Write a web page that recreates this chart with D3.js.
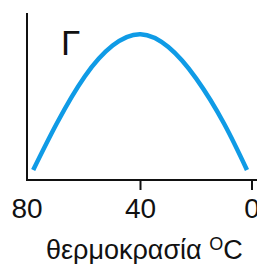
<!DOCTYPE html>
<html>
<head>
<meta charset="utf-8">
<script src="https://cdn.jsdelivr.net/npm/d3@7"></script>
<style>
  body { margin: 0; background: #fff; }
  text { font-family: "Liberation Sans", Arial, sans-serif; fill: #111; }
</style>
</head>
<body>
<script>
var w = 257, h = 264;

// temperature (°C)
var temps = [78.5, 70, 60, 50, 40, 30, 20, 10, 1.8];
// relative activity (0-100)
var activity = [6, 34, 62, 80.5, 87.3, 79.6, 60.7, 33.7, 6];
var tickVals = [40, 0];
var tickLabels = ['80', '40', '0'];
var labelVals = [80, 40, 0];

var x = d3.scaleLinear().domain([80, 0]).range([29, 252]);
var y = d3.scaleLinear().domain([0, 100]).range([180, 13]);

var svg = d3.select('body').append('svg')
    .attr('width', w)
    .attr('height', h);

var data = temps.map(function(t, i) { return { t: t, v: activity[i] }; });

var line = d3.line()
    .x(d => x(d.t))
    .y(d => y(d.v))
    .curve(d3.curveNatural);

svg.append('path')
    .datum(data)
    .attr('d', line)
    .attr('fill', 'none')
    .attr('stroke', '#0f9be6')
    .attr('stroke-width', 4.5);

// axes
svg.append('line')
    .attr('x1', 27).attr('x2', 27)
    .attr('y1', y(100)).attr('y2', y(0) + 1)
    .attr('stroke', '#111').attr('stroke-width', 2);
svg.append('line')
    .attr('x1', 26).attr('x2', w)
    .attr('y1', y(0)).attr('y2', y(0))
    .attr('stroke', '#111').attr('stroke-width', 2);

svg.selectAll('.tick')
    .data(tickVals)
    .enter()
    .append('line')
    .attr('class', 'tick')
    .attr('x1', d => x(d)).attr('x2', d => x(d))
    .attr('y1', y(0)).attr('y2', y(0) + 10)
    .attr('stroke', '#111').attr('stroke-width', 2);

svg.selectAll('.tl')
    .data(labelVals)
    .enter()
    .append('text')
    .attr('class', 'tl')
    .attr('x', d => d == 80 ? 27 : x(d))
    .attr('y', 218)
    .attr('text-anchor', 'middle')
    .attr('font-size', 28)
    .text((d, i) => tickLabels[i]);

var lab = svg.append('text')
    .attr('x', 46)
    .attr('y', 259)
    .attr('font-size', 27);
lab.append('tspan').text('θερμοκρασία ');
lab.append('tspan').attr('font-size', 18).attr('dy', -9).text('O');
lab.append('tspan').attr('dy', 9).text('C');

svg.append('text')
    .attr('x', 61)
    .attr('y', 55)
    .attr('font-size', 35)
    .text('Γ');
</script>
</body>
</html>
